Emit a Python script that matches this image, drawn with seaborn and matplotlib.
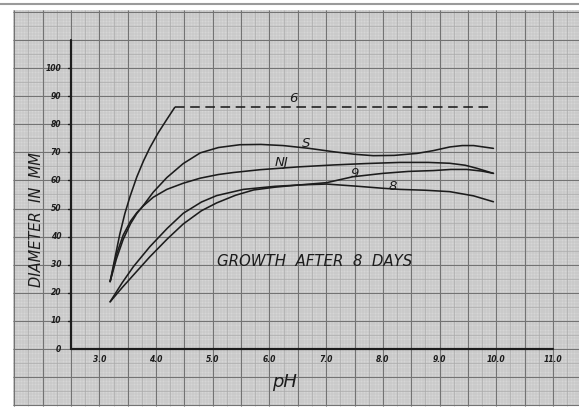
import matplotlib
matplotlib.use("Agg")
import matplotlib.pyplot as plt
import numpy as np
import pandas as pd
import seaborn as sns

# curves (pH vs colony diameter in mm)
ph_6 = [3.19, 3.28, 3.36, 3.45, 3.54, 3.66, 3.78, 3.89, 4.04, 4.19, 4.33]
mm_6 = [24.0, 32.9, 40.8, 48.2, 54.2, 61.2, 67.0, 71.6, 77.0, 81.7, 86.0]
ph_6_dash = [4.33, 9.92]
mm_6_dash = [86.3, 86.3]

ph_s = [3.19, 3.30, 3.42, 3.55, 3.66, 3.78, 3.95, 4.19, 4.48, 4.78, 5.10, 5.48, 5.85,
        6.24, 6.70, 7.13, 7.50, 7.83, 8.20, 8.60, 8.89, 9.18, 9.40, 9.60, 9.95]
mm_s = [24.0, 32.0, 39.0, 44.6, 48.2, 51.2, 55.8, 61.0, 66.0, 69.8, 71.7, 72.7, 72.8,
        72.4, 71.4, 70.2, 69.3, 68.8, 68.9, 69.6, 70.6, 71.9, 72.4, 72.4, 71.4]

ph_nj = [3.19, 3.30, 3.42, 3.55, 3.66, 3.78, 3.95, 4.19, 4.48, 4.78, 5.10, 5.36,
         5.83, 6.50, 7.13, 7.70, 8.30, 8.80, 9.18, 9.45, 9.66, 9.95]
mm_nj = [24.0, 33.5, 40.5, 45.5, 48.5, 51.0, 54.0, 56.8, 59.0, 60.8, 62.1, 62.8,
         63.8, 64.8, 65.5, 66.0, 66.4, 66.4, 66.1, 65.4, 64.3, 62.5]

ph_9 = [3.19, 3.40, 3.60, 3.89, 4.20, 4.48, 4.80, 5.07, 5.40, 5.72, 6.10,
        6.54, 7.01, 7.47, 8.00, 8.45, 8.89, 9.20, 9.48, 9.75, 9.95]
mm_9 = [16.8, 21.8, 26.3, 32.8, 39.2, 44.5, 49.2, 52.0, 54.7, 56.6, 57.6,
        58.4, 59.2, 61.3, 62.5, 63.2, 63.5, 63.9, 63.9, 63.3, 62.5]

ph_8 = [3.19, 3.40, 3.60, 3.89, 4.20, 4.48, 4.80, 5.07, 5.54, 6.10,
        6.54, 7.01, 7.50, 8.00, 8.30, 8.75, 9.18, 9.60, 9.95]
mm_8 = [16.8, 23.5, 29.3, 36.4, 43.0, 48.3, 52.3, 54.6, 56.8, 57.9,
        58.4, 58.7, 58.0, 57.2, 56.8, 56.5, 56.0, 54.5, 52.4]

curve_names = ["6", "S", "NJ", "9", "8"]
label_pos = {"6": (6.42, 89.3), "S": (6.65, 73.3), "NJ": (6.22, 66.2),
             "9": (7.51, 62.3), "8": (8.18, 58.0)}

x_ticks = [3, 4, 5, 6, 7, 8, 9, 10, 11]
x_tick_labels = ["3.0", "4.0", "5.0", "6.0", "7.0", "8.0", "9.0", "10.0", "11.0"]
y_ticks = [0, 10, 20, 30, 40, 50, 60, 70, 80, 90, 100]

df = pd.concat([
    pd.DataFrame({"ph": ph_6, "mm": mm_6, "curve": "6"}),
    pd.DataFrame({"ph": ph_s, "mm": mm_s, "curve": "S"}),
    pd.DataFrame({"ph": ph_nj, "mm": mm_nj, "curve": "NJ"}),
    pd.DataFrame({"ph": ph_9, "mm": mm_9, "curve": "9"}),
    pd.DataFrame({"ph": ph_8, "mm": mm_8, "curve": "8"}),
], ignore_index=True)

sns.set_style("white")
plt.rcParams["font.family"] = ["DejaVu Sans"]

ink = "#1c1c1c"
fig = plt.figure(figsize=(5.79, 4.11), dpi=100)
ax = fig.add_axes([0, 0, 1, 1])

# graph paper
px0, px1 = 1.48, 11.46
py0, py1 = -20.3, 120.6
ax.fill_between([px0, px1], py0, py1, color="#d6d6d6", zorder=0, lw=0)
ax.axhline(122.6, color="#9a9a9a", lw=1.5, zorder=0)
grid_styles = [(0.05, 1, "#bdbdbd", 0.35), (0.25, 5, "#a9a9a9", 0.45), (0.5, 10, "#737373", 0.8)]
for xstep, ystep, col, lw in grid_styles:
    xs = np.arange(-7.5, px1 + 0.01, xstep)
    xs = xs[(xs >= px0) & (xs <= px1)]
    ax.vlines(xs, py0, py1, color=col, lw=lw, zorder=0.5)
    ys = np.arange(-30, 130, ystep)
    ys = ys[(ys >= py0) & (ys <= py1)]
    ax.hlines(ys, px0, px1, color=col, lw=lw, zorder=0.5)

# axes drawn on the paper
ax.plot([2.5, 2.5], [0, 110], color=ink, lw=1.6, zorder=3)
ax.plot([2.5, 11.0], [0, 0], color=ink, lw=1.6, zorder=3)
for yv in y_ticks[1:]:
    ax.plot([2.44, 2.5], [yv, yv], color=ink, lw=1.0, zorder=3)
for yv in y_ticks:
    ax.text(2.33, yv, str(yv), ha="right", va="center", fontsize=5.5,
            style="italic", fontweight="bold", color=ink)
for xv, lab in zip(x_ticks, x_tick_labels):
    ax.text(xv, -3.6, lab, ha="center", va="center", fontsize=5.5,
            style="italic", fontweight="bold", color=ink)

# growth curves
sns.lineplot(data=df, x="ph", y="mm", hue="curve", hue_order=curve_names,
             palette=[ink] * len(curve_names), estimator=None, sort=False,
             legend=False, lw=1.15, ax=ax, zorder=4)
ax.plot(ph_6_dash, mm_6_dash, color=ink, lw=1.15, dashes=(6, 3.5), zorder=4)

for name in curve_names:
    x, y = label_pos[name]
    ax.text(x, y, name, ha="center", va="center", fontsize=9.5,
            style="italic", color=ink, zorder=5)

ax.text(6.79, 31.0, "GROWTH  AFTER  8  DAYS", ha="center", va="center",
        fontsize=10.8, style="italic", color=ink)
ax.text(1.90, 45.9, "DIAMETER  IN  MM", ha="center", va="center", rotation=90,
        fontsize=10.5, style="italic", color=ink)
ax.text(6.27, -11.6, "pH", ha="center", va="center", fontsize=13,
        style="italic", color=ink)

# axes fill the whole sheet; limits chosen so pH 2.5 / 0 mm sits at the drawn origin
ax.set_xlim(1.248, 11.459)
ax.set_ylim(-22.06, 124.2)
ax.axis("off")

fig.savefig("out.png", dpi=100)
